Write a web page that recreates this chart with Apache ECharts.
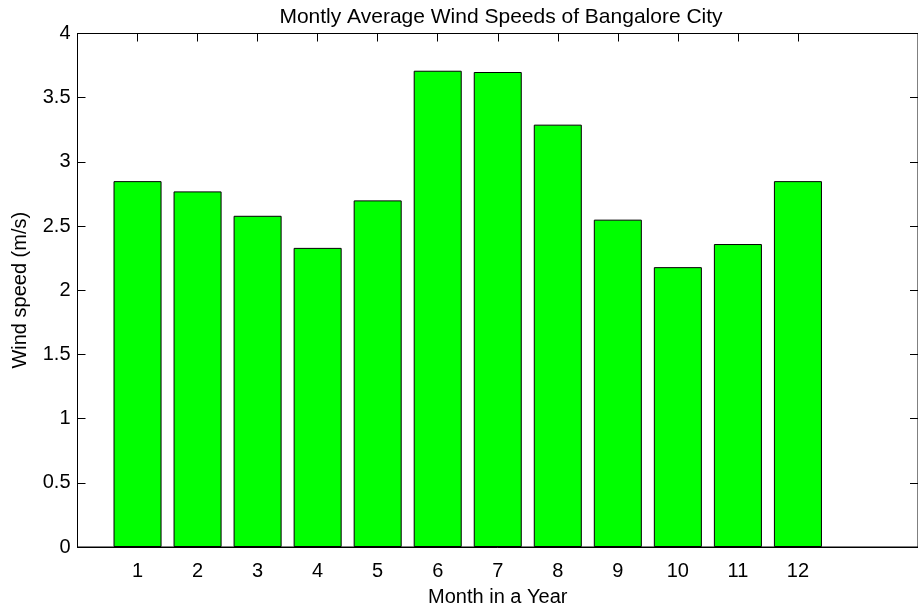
<!DOCTYPE html>
<html>
<head>
<meta charset="utf-8">
<script src="https://cdn.jsdelivr.net/npm/echarts@6/dist/echarts.min.js"></script>
<style>
  html, body { margin: 0; padding: 0; background: #fff; }
  #chart { width: 918px; height: 612px; }
</style>
</head>
<body>
<div id="chart"></div>
<script>
// monthly averages
var months = [1, 2, 3, 4, 5, 6, 7, 8, 9, 10, 11, 12];
var windSpeed = [2.85, 2.77, 2.58, 2.33, 2.70, 3.71, 3.70, 3.29, 2.55, 2.18, 2.36, 2.85];
var yTicks = [0, 0.5, 1, 1.5, 2, 2.5, 3, 3.5, 4];

var font = 'Liberation Sans, Arial, Helvetica, sans-serif';
var fs = 20;

var myChart = echarts.init(document.getElementById('chart'));

var barData = months.map(function (m, i) { return [m, windSpeed[i]]; });

function ticks(values) {
    var t = { show: true, inside: true, length: 8, lineStyle: { color: '#000', width: 1 } };
    if (values) t.customValues = values;
    return t;
}
var axLine = { show: true, onZero: false, lineStyle: { color: '#000', width: 1 } };

myChart.setOption({
    animation: false,
    backgroundColor: '#fff',
    title: {
        text: 'Montly Average Wind Speeds of Bangalore City',
        left: 496,
        textAlign: 'center',
        top: 2,
        textStyle: { fontFamily: font, fontSize: 21, fontWeight: 'normal', color: '#000' }
    },
    grid: {
        left: 77.5,
        right: -4,
        top: 33.5,
        bottom: 62.5,
        show: true,
        borderColor: '#000',
        borderWidth: 1
    },
    xAxis: [{
        type: 'value',
        min: 0,
        max: 14,
        interval: 1,
        name: 'Month in a Year',
        nameLocation: 'middle',
        nameGap: 40,
        nameTextStyle: { fontFamily: font, fontSize: fs, color: '#000' },
        axisLine: axLine,
        axisTick: ticks(months),
        axisLabel: {
            customValues: months,
            margin: 14,
            fontFamily: font, fontSize: fs, color: '#000'
        },
        splitLine: { show: false }
    }, {
        type: 'value',
        position: 'top',
        min: 0,
        max: 14,
        interval: 1,
        axisLine: axLine,
        axisTick: ticks(months),
        axisLabel: { show: false },
        splitLine: { show: false }
    }],
    yAxis: [{
        type: 'value',
        min: 0,
        max: 4,
        interval: 0.5,
        name: 'Wind speed (m/s)',
        nameLocation: 'middle',
        nameGap: 47,
        nameTextStyle: { fontFamily: font, fontSize: fs, color: '#000' },
        axisLine: axLine,
        axisTick: ticks(yTicks),
        axisLabel: {
            customValues: yTicks,
            margin: 7,
            fontFamily: font, fontSize: fs, color: '#000',
            formatter: function (v) { return String(v); }
        },
        splitLine: { show: false }
    }, {
        type: 'value',
        position: 'right',
        min: 0,
        max: 4,
        interval: 0.5,
        axisLine: axLine,
        axisTick: ticks(yTicks),
        axisLabel: { show: false },
        splitLine: { show: false }
    }],
    series: [{
        type: 'bar',
        xAxisIndex: 0,
        yAxisIndex: 0,
        data: barData,
        barWidth: '80%',
        itemStyle: { color: '#00ff00', borderColor: '#000', borderWidth: 1 },
        z: 1
    }]
});
</script>
</body>
</html>
